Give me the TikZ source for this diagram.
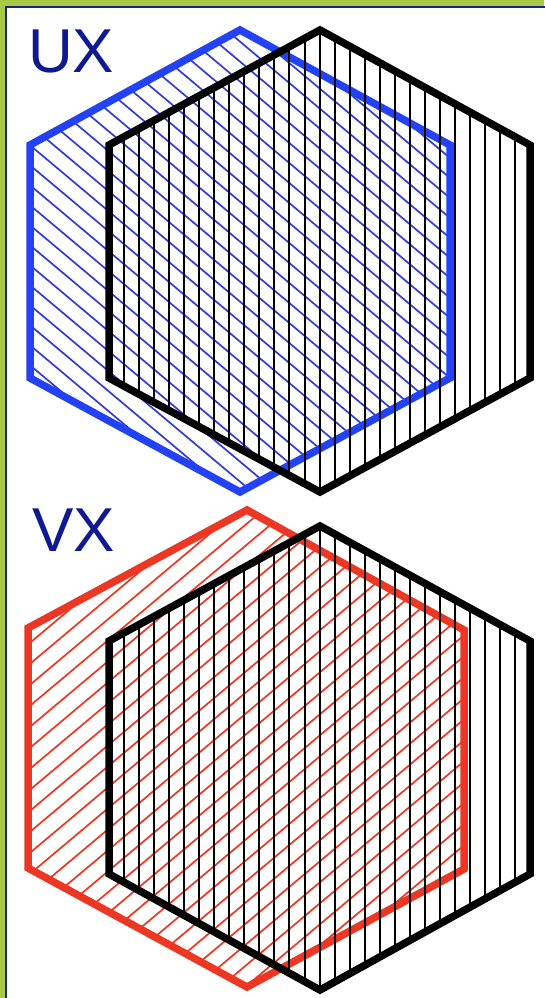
\documentclass[tikz,border=0pt]{standalone}
\usepackage{fontspec}
\setmainfont{Liberation Sans}
\definecolor{bggreen}{RGB}{168,200,72}
\definecolor{frameblue}{RGB}{30,35,130}
\definecolor{hexblue}{RGB}{35,65,245}
\definecolor{hatchblue}{RGB}{50,60,215}
\definecolor{hexred}{RGB}{235,55,35}
\definecolor{labelblue}{RGB}{15,25,145}
\begin{document}
\begin{tikzpicture}[x=1pt,y=-1pt,
  label/.style={anchor=base west,inner sep=0pt,text=labelblue,font=\fontsize{62}{62}\selectfont},
  thickhex/.style={line width=7.5pt,line join=miter},
  thinv/.style={line width=2pt,black},
  hatchb/.style={line width=1.7pt,hatchblue},
  hatchr/.style={line width=1.7pt,hexred}]
\useasboundingbox (0,0) rectangle (544,998);
\fill[bggreen] (0,0) rectangle (544,998);
\fill[white] (5.5,7) rectangle (546,1000);
\draw[frameblue,line width=2pt] (5.5,1000) -- (5.5,7) -- (546,7);

% ---------- UX ----------
\node[label] (ux) at (28,72) {UX};
\begin{scope}
  \clip (240,30) -- (450,145) -- (450,378) -- (240,492) -- (30,378) -- (30,145) -- cycle;
  \foreach \c in {-500,-480,...,600} {
    \draw[hatchb] (0,\c) -- (600,\c+504);
  }
\end{scope}
\draw[hexblue,thickhex] (240,30) -- (450,145) -- (450,378) -- (240,492) -- (30,378) -- (30,145) -- cycle;
\begin{scope}
  \clip (320,30) -- (530,145) -- (530,378) -- (320,492) -- (109,378) -- (109,145) -- cycle;
  \foreach \k in {1,...,27} {
    \draw[thinv] (109+15.04*\k,0) -- (109+15.04*\k,500);
  }
\end{scope}
\draw[black,thickhex] (320,30) -- (530,145) -- (530,378) -- (320,492) -- (109,378) -- (109,145) -- cycle;

% ---------- VX ----------
\node[label] (vx) at (32,551) {VX};
\begin{scope}
  \clip (247,510) -- (464,630) -- (464,869) -- (247,987) -- (28,868) -- (28,628) -- cycle;
  \foreach \c in {500,521,...,1700} {
    \draw[hatchr] (0,\c) -- (600,\c-504);
  }
\end{scope}
\draw[hexred,thickhex] (247,510) -- (464,630) -- (464,869) -- (247,987) -- (28,868) -- (28,628) -- cycle;
\begin{scope}
  \clip (320,526) -- (530,641) -- (530,874) -- (320,990) -- (109,874) -- (109,641) -- cycle;
  \foreach \k in {1,...,27} {
    \draw[thinv] (109+15.04*\k,500) -- (109+15.04*\k,1000);
  }
\end{scope}
\draw[black,thickhex] (320,526) -- (530,641) -- (530,874) -- (320,990) -- (109,874) -- (109,641) -- cycle;
\end{tikzpicture}
\end{document}
